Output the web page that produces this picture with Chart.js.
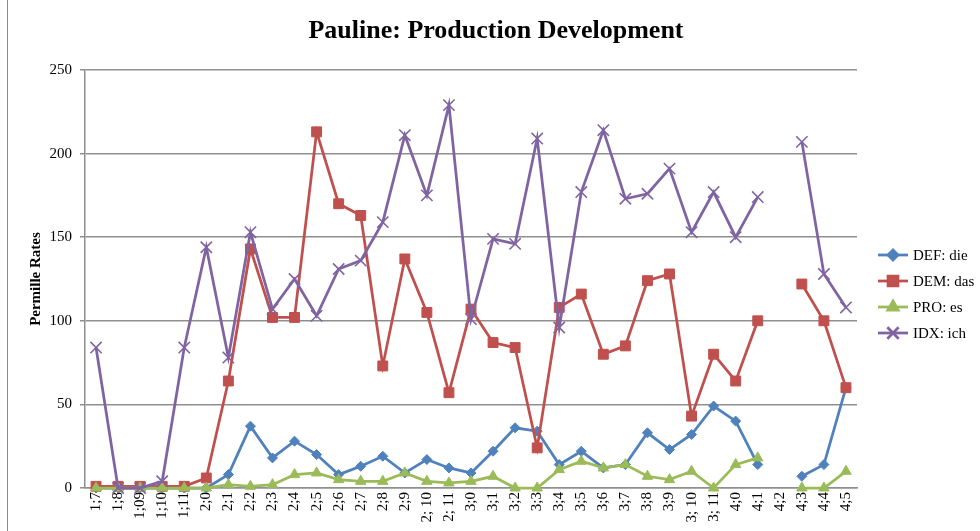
<!DOCTYPE html>
<html>
<head>
<meta charset="utf-8">
<script src="https://cdn.jsdelivr.net/npm/chart.js@4/dist/chart.umd.min.js"></script>
<style>
  html, body { margin: 0; padding: 0; background: #fff; }
  #wrap { position: relative; width: 980px; height: 531px; overflow: hidden; }
  #frame { position: absolute; left: 7px; top: -2px; width: 2000px; height: 2000px; border-left: 1.5px solid #8a8a8a; }
  canvas { position: absolute; left: 0; top: 0; }
</style>
</head>
<body>
<div id="wrap">
  <div id="frame"></div>
  <canvas id="c" width="980" height="531"></canvas>
</div>
<script>
// Age points (years;months)
const categories = ['1;7','1;8','1;09','1;10','1;11','2;0','2;1','2;2','2;3','2;4','2;5','2;6','2;7','2;8','2;9','2; 10','2; 11',
  '3;0','3;1','3;2','3;3','3;4','3;5','3;6','3;7','3;8','3;9','3; 10','3; 11','4;0','4;1','4;2','4;3','4;4','4;5'];

// Permille rates per form (no recording at 4;2)
const defDie = [0,0,0,0,0,0,8,37,18,28,20,8,13,19,9,17,12,9,22,36,34,14,22,12,14,33,23,32,49,40,14,null,7,14,60];
const demDas = [1,1,1,1,1,6,64,143,102,102,213,170,163,73,137,105,57,107,87,84,24,108,116,80,85,124,128,43,80,64,100,null,122,100,60];
const proEs  = [0,0,0,0,0,0,2,1,2,8,9,5,4,4,9,4,3,4,7,0,0,11,16,12,14,7,5,10,0,14,18,null,0,0,10];
const idxIch = [84,0,0,4,84,144,78,153,107,125,103,131,136,159,211,175,229,101,149,146,209,96,177,214,173,176,191,153,177,150,174,null,207,128,108];

const yTicks = [0, 50, 100, 150, 200, 250];
const seriesNames = ['DEF: die', 'DEM: das', 'PRO: es', 'IDX: ich'];

const SERIF = '"Liberation Serif", "Times New Roman", serif';
const GRID = '#8f8f8f';

function series(label, data, color, style, radius, order) {
  return {
    label, data,
    borderColor: color, backgroundColor: color,
    pointBackgroundColor: color, pointBorderColor: color,
    pointStyle: style, pointRadius: radius, pointHoverRadius: radius,
    pointBorderWidth: style === 'crossRot' ? 1.6 : 1,
    borderWidth: 2.75, tension: 0, spanGaps: false, clip: false, order
  };
}

// Right-hand legend: short line with the series marker, then its name
const sideLegend = {
  id: 'sideLegend',
  afterDraw(chart) {
    const ctx = chart.ctx;
    const area = chart.chartArea;
    const x0 = area.right + 21, lineLen = 30, textX = x0 + lineLen + 5;
    const y0 = 255, step = 26;
    ctx.save();
    chart.data.datasets.forEach((ds, i) => {
      const y = y0 + i * step;
      ctx.strokeStyle = ds.borderColor;
      ctx.lineWidth = ds.borderWidth;
      ctx.beginPath();
      ctx.moveTo(x0, y);
      ctx.lineTo(x0 + lineLen, y);
      ctx.stroke();
      ctx.fillStyle = ds.pointBackgroundColor;
      ctx.strokeStyle = ds.pointBorderColor;
      Chart.helpers.drawPoint(ctx, {
        pointStyle: ds.pointStyle, radius: ds.pointRadius,
        borderWidth: ds.pointBorderWidth, rotation: 0
      }, x0 + lineLen / 2, y);
      ctx.fillStyle = '#000';
      ctx.font = '15px ' + SERIF;
      ctx.textAlign = 'left';
      ctx.textBaseline = 'middle';
      ctx.fillText(ds.label, textX, y + 1);
    });
    ctx.restore();
  }
};

// Chart heading
const heading = {
  id: 'heading',
  afterDraw(chart) {
    const ctx = chart.ctx;
    ctx.save();
    ctx.fillStyle = '#000';
    ctx.font = 'bold 26px ' + SERIF;
    ctx.textAlign = 'center';
    ctx.textBaseline = 'alphabetic';
    ctx.fillText('Pauline: Production Development', 496, 38);
    ctx.restore();
  }
};

new Chart(document.getElementById('c'), {
  type: 'line',
  data: {
    labels: categories,
    datasets: [
      series(seriesNames[0], defDie, '#4F81BD', 'rectRot', 5, 4),
      series(seriesNames[1], demDas, '#C0504D', 'rect', 7, 3),
      series(seriesNames[2], proEs, '#9BBB59', 'triangle', 6, 2),
      series(seriesNames[3], idxIch, '#8064A2', 'crossRot', 8, 1)
    ]
  },
  options: {
    responsive: false,
    devicePixelRatio: 1,
    animation: false,
    events: [],
    layout: { padding: { left: 0, top: 70, right: 123, bottom: 0 } },
    plugins: { legend: { display: false }, title: { display: false }, tooltip: { enabled: false } },
    scales: {
      x: {
        offset: true,
        afterFit(scale) { scale.height = 43; },
        grid: { display: false, drawTicks: false },
        border: { display: true, color: GRID, width: 1.5 },
        ticks: {
          autoSkip: false, minRotation: 90, maxRotation: 90, padding: 4,
          color: '#000', font: { family: SERIF, size: 15 }
        }
      },
      y: {
        min: 0, max: 250,
        afterFit(scale) { scale.width = 85; },
        afterBuildTicks(scale) { scale.ticks = yTicks.map(v => ({ value: v })); },
        grid: { color: GRID, lineWidth: 1.5, tickLength: 5, drawTicks: true },
        border: { display: true, color: GRID, width: 1.5 },
        ticks: { padding: 8, color: '#000', font: { family: SERIF, size: 15 } },
        title: {
          display: true, text: 'Permille Rates', color: '#000',
          font: { family: SERIF, size: 15, weight: 'bold' },
          padding: { top: 27, bottom: 0 }
        }
      }
    }
  },
  plugins: [heading, sideLegend]
});
</script>
</body>
</html>
